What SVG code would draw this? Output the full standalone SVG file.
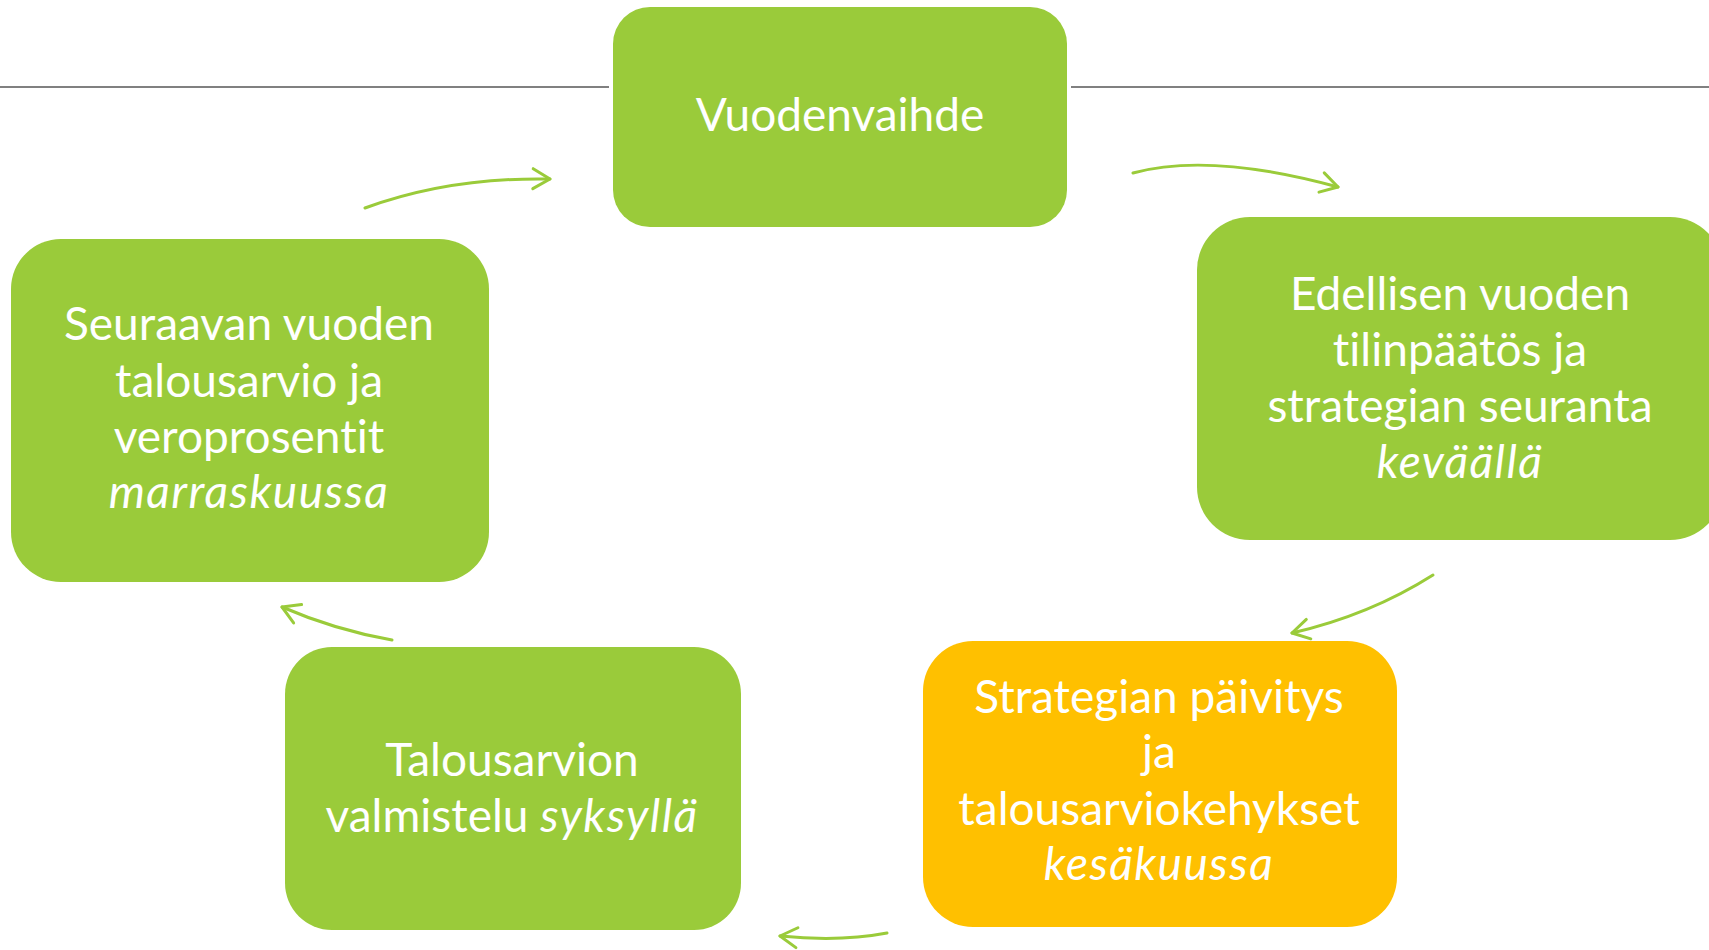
<svg xmlns="http://www.w3.org/2000/svg" width="1709" height="950" viewBox="0 0 1709 950">
  <style>
    .node-green { fill: #9ACB3A; }
    .node-orange { fill: #FFC000; }
    .label { font-family: Lato, "Open Sans", "Liberation Sans", sans-serif; font-size: 46px; fill: #FFFFFF; text-anchor: middle; font-variant-ligatures: none; font-feature-settings: "liga" 0, "dlig" 0; }
    .it { font-style: italic; letter-spacing: 1.5px; }
    .conn { fill: none; stroke: #9ACB3A; stroke-width: 3; stroke-linecap: round; }
    .rule { stroke: #808080; stroke-width: 2; }
  </style>
  <defs>
    <marker id="ah" markerUnits="userSpaceOnUse" markerWidth="40" markerHeight="40" viewBox="-20 -20 40 40" refX="0" refY="0" orient="auto" overflow="visible">
      <path d="M-17,-10 L0,0 L-17,10" fill="none" stroke="#9ACB3A" stroke-width="3" stroke-linecap="round" stroke-linejoin="round"/>
    </marker>
  </defs>
  <rect width="1709" height="950" fill="#FFFFFF"/>
  <g id="rules">
    <line class="rule" x1="0" y1="87" x2="609" y2="87"/>
    <line class="rule" x1="1071" y1="87" x2="1709" y2="87"/>
  </g>
  <g id="connectors">
    <path class="conn" d="M365,208 Q450,177 550,179" marker-end="url(#ah)"/>
    <path class="conn" d="M1133,173 Q1210,152 1338,187" marker-end="url(#ah)"/>
    <path class="conn" d="M1433,575 Q1370,615 1292,633" marker-end="url(#ah)"/>
    <path class="conn" d="M887,933 Q840,942 780,936" marker-end="url(#ah)"/>
    <path class="conn" d="M392,640 Q335,630 282,607" marker-end="url(#ah)"/>
  </g>
  <g id="node-vuodenvaihde">
    <rect class="node-green" x="613" y="7" width="454" height="220" rx="37" ry="37"/>
    <text class="label" x="840" y="131">Vuodenvaihde</text>
  </g>
  <g id="node-edellisen">
    <rect class="node-green" x="1197" y="217" width="526" height="323" rx="53" ry="53"/>
    <text class="label" x="1460" y="310">Edellisen vuoden</text>
    <text class="label" x="1460" y="366">tilinpäätös ja</text>
    <text class="label" x="1460" y="422">strategian seuranta</text>
    <text class="label it" x="1460" y="478">keväällä</text>
  </g>
  <g id="node-strategian">
    <rect class="node-orange" x="923" y="641" width="474" height="286" rx="50" ry="50"/>
    <text class="label" x="1159" y="713">Strategian päivitys</text>
    <text class="label" x="1159" y="768">ja</text>
    <text class="label" x="1159" y="825">talousarviokehykset</text>
    <text class="label it" x="1159" y="880">kesäkuussa</text>
  </g>
  <g id="node-talousarvion">
    <rect class="node-green" x="285" y="647" width="456" height="283" rx="47" ry="47"/>
    <text class="label" x="512" y="776">Talousarvion</text>
    <text class="label" x="512" y="832">valmistelu <tspan class="it">syksyllä</tspan></text>
  </g>
  <g id="node-seuraavan">
    <rect class="node-green" x="11" y="239" width="478" height="343" rx="50" ry="50"/>
    <text class="label" x="249" y="340">Seuraavan vuoden</text>
    <text class="label" x="249" y="397">talousarvio ja</text>
    <text class="label" x="249" y="453">veroprosentit</text>
    <text class="label it" x="249" y="508">marraskuussa</text>
  </g>
</svg>
